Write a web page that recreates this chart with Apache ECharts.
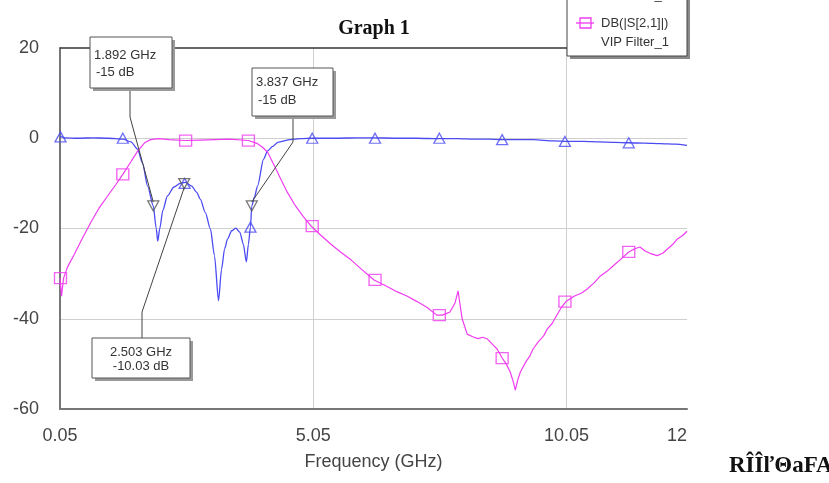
<!DOCTYPE html>
<html>
<head>
<meta charset="utf-8">
<script src="https://cdn.jsdelivr.net/npm/echarts@6/dist/echarts.min.js"></script>
<style>
html,body{margin:0;padding:0;background:#fff;}
#c{width:829px;height:483px;}
</style>
</head>
<body>
<div id="c"></div>
<script>
// ---- data ----
const xTickLabels = ['0.05', '5.05', '10.05', '12'];
const yTickLabels = ['-60', '-40', '-20', '0', '20'];

const s11Freq = [0.05,0.15,0.4,0.7,1.0,1.29,1.45,1.58,1.68,1.78,1.892,1.95,1.98,2.02,2.08,2.17,2.3,2.42,2.53,2.65,2.75,2.82,2.92,3.02,3.1,3.18,3.24,3.3,3.36,3.44,3.52,3.6,3.67,3.73,3.77,3.81,3.837,3.89,3.95,4.07,4.15,4.25,4.35,4.6,4.8,5.05,5.5,5.9,6.28,6.7,7.1,7.53,7.9,8.2,8.5,8.77,9.1,9.4,9.8,10.05,10.4,10.7,11.0,11.28,11.6,11.9,12.2,12.43];
const s11Db   = [0.4,0.1,0,0.1,0,-0.2,-0.8,-2.4,-5.5,-10.6,-15,-20,-22.8,-20,-16,-12.8,-10.8,-10.0,-9.8,-10.6,-12,-13.5,-16.5,-20.1,-26,-36,-29,-24.5,-22.3,-20.5,-19.9,-20.8,-23.5,-27.4,-23.5,-19.7,-15,-13,-10.6,-4.6,-2.8,-1.8,-0.9,-0.3,-0.1,0,0,0.1,0.1,0,0,-0.1,-0.1,-0.2,-0.2,-0.3,-0.3,-0.3,-0.6,-0.7,-0.7,-0.8,-0.9,-1.0,-1.1,-1.2,-1.3,-1.6];

const s21Freq = [0.05,0.08,0.12,0.2,0.32,0.5,0.66,0.82,0.99,1.15,1.29,1.45,1.58,1.72,1.84,2.0,2.2,2.53,2.8,3.1,3.4,3.77,3.95,4.05,4.15,4.3,4.42,4.54,4.7,4.85,5.01,5.2,5.4,5.59,5.8,6.0,6.25,6.5,6.7,6.91,7.1,7.3,7.49,7.6,7.75,7.85,7.91,7.95,7.99,8.09,8.2,8.3,8.4,8.49,8.6,8.68,8.78,8.86,8.94,9.0,9.04,9.09,9.14,9.25,9.32,9.39,9.5,9.6,9.67,9.77,9.87,9.95,10.04,10.2,10.35,10.46,10.6,10.72,10.85,10.97,11.1,11.28,11.4,11.5,11.6,11.7,11.84,11.95,12.04,12.15,12.24,12.35,12.43];
const s21Db   = [-31,-35,-31,-28.5,-26,-22,-18.6,-15.5,-12.8,-10.3,-8,-5.2,-2.9,-1.0,-0.3,-0.1,-0.3,-0.5,-0.4,-0.3,-0.2,-0.5,-1.2,-2.0,-3.1,-6.5,-9.3,-12,-15,-17.3,-19.5,-21.5,-23.5,-25.2,-27,-29,-31.4,-32.8,-34,-35,-36.2,-37.5,-39.2,-39.2,-38.5,-36.5,-33.8,-37,-40,-43.4,-44,-44.4,-44.1,-44.5,-45.8,-46.7,-48.7,-50,-51.8,-54,-55.8,-53.5,-51.8,-49.5,-48.4,-46.7,-45,-43.8,-42.3,-41,-39,-37.5,-36.2,-35,-34.3,-33.4,-32,-30.5,-29.5,-28.3,-27,-25.2,-24.5,-24.1,-25,-25.5,-26,-25.5,-24.6,-23.5,-22.3,-21.5,-20.6];

const s11MarkFreq = [0.06,1.29,2.51,3.81,5.03,6.27,7.54,8.78,10.02,11.28];
const s11MarkDb   = [0.3,0,-10,-19.7,0,0,0,-0.3,-0.7,-1.0];
const s21MarkFreq = [0.06,1.29,2.53,3.77,5.03,6.27,7.54,8.78,10.02,11.28];
const s21MarkDb   = [-31,-8,-0.5,-0.5,-19.5,-31.4,-39.2,-48.7,-36.2,-25.2];

const annFreq = [1.892, 2.503, 3.837];
const annDb   = [-15, -10.03, -15];
const annText = [['1.892 GHz', '-15 dB'], ['2.503 GHz', '-10.03 dB'], ['3.837 GHz', '-15 dB']];

const legendNames = ['DB(|S[1,1]|)', 'DB(|S[2,1]|)'];
const legendSource = 'VIP Filter_1';
const titleText = 'Graph 1';
const xName = 'Frequency (GHz)';
const watermark = 'RÎÎľΘaFA';

// ---- chart ----
const BLUE = '#4b4bf2';
const MAG = '#f03cf0';
const zip = (a, b) => a.map((v, i) => [v, b[i]]);

const chart = echarts.init(document.getElementById('c'), null, {renderer: 'canvas'});

const option = {
  animation: false,
  backgroundColor: '#fff',
  grid: {left: 60, right: 142, top: 48, bottom: 74, outerBoundsMode: 'none'},
  xAxis: {
    type: 'value', min: 0.05, max: 12.43, interval: 5,
    axisLine: {show: true, onZero: false, lineStyle: {color: '#777', width: 2}},
    axisTick: {show: false},
    splitLine: {show: true, showMinLine: false, showMaxLine: false, lineStyle: {color: '#cfcfcf', width: 1}},
    axisLabel: {
      fontFamily: 'Liberation Sans, Arial, sans-serif', fontSize: 18, color: '#444', margin: 18,
      alignMaxLabel: 'right', showMaxLabel: true, showMinLabel: true,
      formatter: (v, i) => xTickLabels[i]
    },
    name: xName, nameLocation: 'middle', nameGap: 44,
    nameTextStyle: {fontFamily: 'Liberation Sans, Arial, sans-serif', fontSize: 18, color: '#444'}
  },
  yAxis: {
    type: 'value', min: -60, max: 20, interval: 20,
    axisLine: {show: true, onZero: false, lineStyle: {color: '#777', width: 2}},
    axisTick: {show: false},
    splitLine: {show: true, showMinLine: false, showMaxLine: false, lineStyle: {color: '#cfcfcf', width: 1}},
    axisLabel: {
      fontFamily: 'Liberation Sans, Arial, sans-serif', fontSize: 18, color: '#444', margin: 21,
      formatter: (v, i) => yTickLabels[i]
    }
  },
  series: [
    {type: 'line', name: legendNames[0], data: zip(s11Freq, s11Db), showSymbol: false, smooth: 0.25, smoothMonotone: 'x',
     lineStyle: {color: BLUE, width: 1.3}, z: 3},
    {type: 'line', name: legendNames[1], data: zip(s21Freq, s21Db), showSymbol: false, smooth: false,
     lineStyle: {color: MAG, width: 1.2}, z: 3},
    {type: 'scatter', data: zip(s11MarkFreq, s11MarkDb), symbol: 'triangle', symbolSize: [11, 10],
     itemStyle: {color: 'rgba(255,255,255,0)', borderColor: BLUE, borderWidth: 1.3}, z: 4},
    {type: 'scatter', data: zip(s21MarkFreq, s21MarkDb), symbol: 'rect', symbolSize: [12, 11],
     itemStyle: {color: 'rgba(255,255,255,0)', borderColor: MAG, borderWidth: 1.3}, z: 4},
    {type: 'scatter', data: zip(annFreq, annDb), symbol: 'triangle', symbolRotate: 180, symbolSize: [11, 10],
     itemStyle: {color: 'rgba(255,255,255,0)', borderColor: '#555', borderWidth: 1.3}, z: 5}
  ]
};
chart.setOption(option);

// annotation boxes (layout positions) and leader lines to the library-computed points
const boxes = [
  {x: 90, y: 37, w: 82, h: 51, align: 'left', tx: 94, ty: [55, 72], lead: [130, 88, 130, 117]},
  {x: 92, y: 338, w: 98, h: 40, align: 'center', tx: 141, ty: [352, 366], lead: [142, 338, 142, 312]},
  {x: 252, y: 68, w: 81, h: 48, align: 'left', tx: 256, ty: [82, 100], lead: [293, 116, 293, 142]}
];
const font13 = '13px "Liberation Sans", Arial, sans-serif';
const g = [];
// top frame line
g.push({type: 'line', shape: {x1: 60, y1: 48, x2: 567, y2: 48}, style: {stroke: '#333', lineWidth: 1.5}, z: 50});
boxes.forEach((b, i) => {
  const p = chart.convertToPixel({gridIndex: 0}, [annFreq[i], annDb[i]]);
  const ty = i === 1 ? p[1] + 4 : p[1] - 4;
  g.push({type: 'polyline', shape: {points: [[b.lead[0], b.lead[1]], [b.lead[2], b.lead[3]], [p[0], ty]]},
          style: {stroke: '#444', lineWidth: 1, fill: null}, z: 60});
  g.push({type: 'rect', shape: {x: b.x + 3, y: b.y + 3, width: b.w, height: b.h}, style: {fill: '#9a9a9a'}, z: 61});
  g.push({type: 'rect', shape: {x: b.x, y: b.y, width: b.w, height: b.h}, style: {fill: '#fff', stroke: '#555', lineWidth: 1}, z: 62});
  annText[i].forEach((t, k) => {
    g.push({type: 'text', x: b.tx + (k === 1 && b.align === 'left' ? 2 : 0), y: b.ty[k],
            style: {text: t, font: font13, fill: '#333', align: b.align, verticalAlign: 'middle'}, z: 63});
  });
});
// legend box
g.push({type: 'rect', shape: {x: 570, y: -5, width: 120, height: 64}, style: {fill: '#8a8a8a'}, z: 70});
g.push({type: 'rect', shape: {x: 567, y: -8, width: 120, height: 64}, style: {fill: '#fff', stroke: '#444', lineWidth: 1}, z: 71});
g.push({type: 'text', x: 601, y: -5, style: {text: legendSource, font: font13, fill: '#333', verticalAlign: 'middle'}, z: 72});
g.push({type: 'line', shape: {x1: 576, y1: 23, x2: 594, y2: 23}, style: {stroke: MAG, lineWidth: 1.3}, z: 72});
g.push({type: 'rect', shape: {x: 580, y: 18, width: 11, height: 10}, style: {fill: null, stroke: MAG, lineWidth: 1.3}, z: 72});
g.push({type: 'text', x: 601, y: 23, style: {text: legendNames[1], font: font13, fill: '#333', verticalAlign: 'middle'}, z: 72});
g.push({type: 'text', x: 601, y: 42, style: {text: legendSource, font: font13, fill: '#333', verticalAlign: 'middle'}, z: 72});
// title
g.push({type: 'text', x: 374, y: 29, style: {text: titleText, font: 'bold 20px "Liberation Serif", "Times New Roman", serif', fill: '#111', align: 'center', verticalAlign: 'middle'}, z: 72});
// watermark
g.push({type: 'text', x: 729, y: 466, style: {text: watermark, font: 'bold 23px "Liberation Serif", serif', fill: '#111', verticalAlign: 'middle'}, z: 72});

chart.setOption({graphic: g});
</script>
</body>
</html>
